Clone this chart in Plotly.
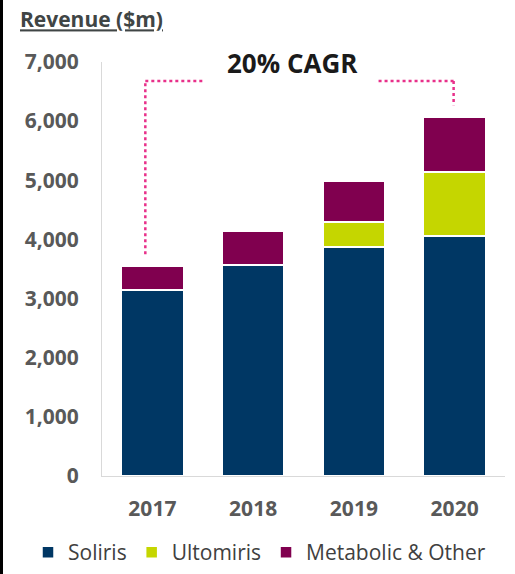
import plotly.graph_objects as go

years = ["2017", "2018", "2019", "2020"]
soliris = [3145, 3568, 3872, 4058]
ultomiris = [0, 0, 423, 1082]
metabolic = [406, 575, 693, 930]
series_names = ["Soliris", "Ultomiris", "Metabolic & Other"]
series_colors = ["#003764", "#c5d600", "#80004f"]
y_ticks = [0, 1000, 2000, 3000, 4000, 5000, 6000, 7000]
cagr_label = "20% CAGR"

W, H = 515, 574
L, R, T, B = 102, 10, 62, 98
PW, PH = W - L - R, H - T - B
FONT = "Open Sans"

fig = go.Figure()
for name, vals, col in zip(series_names, [soliris, ultomiris, metabolic], series_colors):
    fig.add_trace(go.Bar(
        x=years, y=vals, name=name, width=0.615,
        marker=dict(color=col, line=dict(color="white", width=1.5)),
    ))

totals = [a + b + c for a, b, c in zip(soliris, ultomiris, metabolic)]
bracket_y = 6680
dot = dict(color="#e8308a", width=2.5, dash="dot")
shapes = [
    # left bracket
    dict(type="line", xref="x", yref="y", x0=-0.07, x1=-0.07, y0=totals[0] + 200, y1=bracket_y, line=dot),
    dict(type="line", xref="x", yref="y", x0=-0.07, x1=0.51, y0=bracket_y, y1=bracket_y, line=dot),
    # right bracket
    dict(type="line", xref="x", yref="y", x0=2.245, x1=2.99, y0=bracket_y, y1=bracket_y, line=dot),
    dict(type="line", xref="x", yref="y", x0=2.99, x1=2.99, y0=bracket_y, y1=totals[3] + 200, line=dot),
    # left frame border
    dict(type="line", xref="paper", yref="paper",
         x0=(1.5 - L) / PW, x1=(1.5 - L) / PW,
         y0=-B / PH, y1=1 + T / PH,
         line=dict(color="black", width=3)),
]

fig.add_annotation(
    x=1.39, y=6990, xref="x", yref="y", text="<b>" + cagr_label + "</b>",
    showarrow=False, font=dict(family=FONT, size=26, color="#1a1a1a"),
    xanchor="center", yanchor="middle",
)

fig.update_layout(
    width=W, height=H,
    margin=dict(l=L, r=R, t=T, b=B, autoexpand=False),
    barmode="stack",
    plot_bgcolor="white", paper_bgcolor="white",
    shapes=shapes,
    title=dict(text="<b><u>Revenue ($m)</u></b>", x=20 / W, xanchor="left",
               y=1 - 20 / H, yanchor="middle",
               font=dict(family=FONT, size=21, color="#404545")),
    legend=dict(orientation="h",
                x=(28 - L) / PW, xanchor="left",
                y=-(H - 1 - (T + PH)) / PH, yanchor="bottom",
                font=dict(family=FONT, size=21, color="#404040"),
                traceorder="normal", itemclick=False),
    showlegend=True,
)
fig.update_xaxes(
    showline=True, linecolor="#d9d9d9", linewidth=1, showgrid=False,
    tickfont=dict(family=FONT, size=21, color="#595959", weight="bold"),
    ticklabelstandoff=14, range=[-0.5, 3.5],
)
fig.update_yaxes(
    range=[0, 7000], tickvals=y_ticks, tickformat=",d",
    showline=True, linecolor="#d9d9d9", linewidth=1, showgrid=False, zeroline=False,
    tickfont=dict(family=FONT, size=21, color="#595959", weight="bold"),
    ticklabelstandoff=18,
)

fig.write_html("out.html")
